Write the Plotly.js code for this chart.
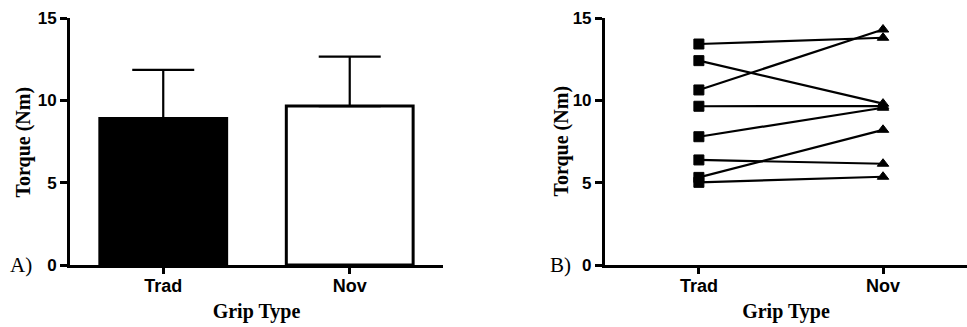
<!DOCTYPE html>
<html>
<head>
<meta charset="utf-8">
<script src="https://cdn.plot.ly/plotly-3.0.1.min.js"></script>
<style>html,body{margin:0;padding:0;background:#fff;}#chart{width:967px;height:327px;}</style>
</head>
<body>
<div id="chart"></div>
<script>
// ---- data ----
const categories = ['Trad', 'Nov'];
const meanTorque = [8.9, 9.65];
const sdTorque = [2.95, 3.0];
const tradTorque = [13.42, 12.41, 10.63, 9.64, 7.79, 6.38, 5.32, 5.02];
const novTorque  = [13.8, 9.8, 14.3, 9.65, 9.55, 6.15, 8.21, 5.36];
const yTicks = [0, 5, 10, 15];
const xTitle = 'Grip Type';
const yTitle = 'Torque (Nm)';
const panelLabels = ['A)', 'B)'];

// ---- traces ----
const traces = [];
traces.push({
  type: 'bar',
  x: categories,
  y: meanTorque,
  xaxis: 'x', yaxis: 'y',
  width: 0.68,
  marker: {color: ['#000000', '#ffffff'], line: {color: '#000', width: 3}},
  error_y: {type: 'data', symmetric: false, array: sdTorque, arrayminus: [0, 0],
            color: '#000', thickness: 2.2, width: 31},
  showlegend: false,
  hoverinfo: 'skip'
});
for (let i = 0; i < tradTorque.length; i++) {
  traces.push({
    type: 'scatter', mode: 'lines+markers',
    x: categories,
    y: [tradTorque[i], novTorque[i]],
    xaxis: 'x2', yaxis: 'y2',
    line: {color: '#000', width: 2.2},
    marker: {symbol: ['square', 'triangle-up'], size: [10, 10], color: '#000',
             opacity: 1, line: {color: '#000', width: 1}},
    showlegend: false,
    cliponaxis: false
  });
}

const xTickFont = {family: 'Liberation Sans, Arial, sans-serif', size: 18, color: '#000', weight: 700};
const yTickFont = {family: 'Liberation Sans, Arial, sans-serif', size: 17, color: '#000', weight: 700};
const serif = 'Liberation Serif, Times New Roman, serif';
const titleFont = {family: serif, size: 20, color: '#000', weight: 700};

function xAxis(domain, range, anchor) {
  return {
    domain: domain, anchor: anchor, type: 'category', range: range,
    showline: true, linecolor: '#000', linewidth: 3,
    ticks: 'outside', ticklen: 6, tickwidth: 3, tickcolor: '#000',
    ticklabelstandoff: -4,
    tickfont: xTickFont, showgrid: false, zeroline: false, fixedrange: true,
    title: {text: xTitle, font: titleFont, standoff: 10}
  };
}
function yAxis(anchor) {
  return {
    anchor: anchor, range: [0, 15], tickvals: yTicks,
    showline: true, linecolor: '#000', linewidth: 3,
    ticks: 'outside', ticklen: 7, tickwidth: 3, tickcolor: '#000',
    tickfont: yTickFont, showgrid: false, zeroline: false, fixedrange: true
  };
}

const layout = {
  width: 967, height: 327,
  margin: {l: 70, r: 0, t: 18, b: 62},
  paper_bgcolor: '#fff', plot_bgcolor: '#fff',
  showlegend: false,
  xaxis: xAxis([0, 0.4158], [-0.5, 1.5], 'y'),
  yaxis: yAxis('x'),
  xaxis2: xAxis([0.5964, 1], [-0.51, 1.456], 'y2'),
  yaxis2: yAxis('x2'),
  annotations: [
    {text: yTitle, xref: 'paper', yref: 'paper', x: -0.0513, y: 0.5, textangle: -90,
     xanchor: 'center', yanchor: 'middle', showarrow: false, font: titleFont},
    {text: yTitle, xref: 'paper', yref: 'paper', x: 0.5474, y: 0.5, textangle: -90,
     xanchor: 'center', yanchor: 'middle', showarrow: false, font: titleFont},
    {text: panelLabels[0], xref: 'paper', yref: 'paper', x: -0.0546, y: 0,
     xanchor: 'center', yanchor: 'middle', showarrow: false,
     font: {family: serif, size: 21, color: '#000'}},
    {text: panelLabels[1], xref: 'paper', yref: 'paper', x: 0.5463, y: 0,
     xanchor: 'center', yanchor: 'middle', showarrow: false,
     font: {family: serif, size: 21, color: '#000'}}
  ]
};

Plotly.newPlot('chart', traces, layout, {displayModeBar: false, staticPlot: true});
</script>
</body>
</html>
